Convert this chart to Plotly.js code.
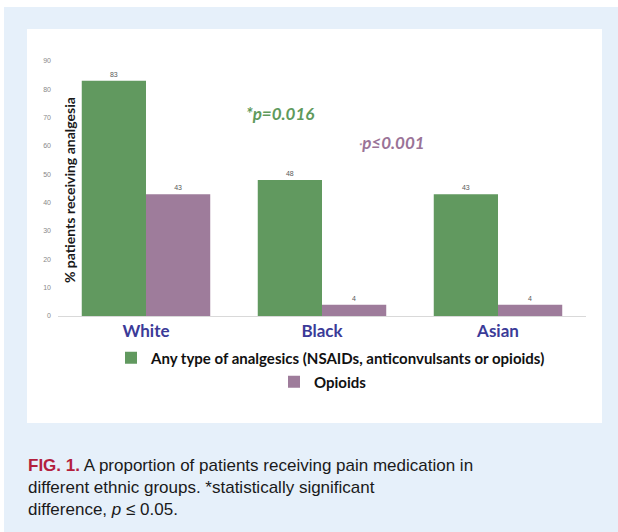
<!DOCTYPE html>
<html>
<head>
<meta charset="utf-8">
<script src="https://cdn.plot.ly/plotly-3.0.1.min.js"></script>
<style>html,body{margin:0;padding:0;background:#fff;}#chart{width:618px;height:532px;}</style>
</head>
<body>
<div id="chart"></div>
<script>
const categories = ["White", "Black", "Asian"];
const anyAnalgesics = [83, 48, 43];
const opioids = [43, 4, 4];
const seriesNames = ["Any type of analgesics (NSAIDs, anticonvulsants or opioids)", "Opioids"];
const yTicks = [0, 10, 20, 30, 40, 50, 60, 70, 80, 90];

// pixel helpers for layout placement
const L = 58, R = 586, T = 61, B = 316;
const px = x => (x - L) / (R - L);
const py = y => (B - y) / (B - T);

const traces = [
  {
    type: "bar", x: categories, y: anyAnalgesics, name: seriesNames[0],
    marker: {color: "#61995f"}, text: anyAnalgesics.map(String), textposition: "outside",
    textfont: {size: 7, color: "#595959", family: "Liberation Sans"}, cliponaxis: false,
    legend: "legend", hoverinfo: "none"
  },
  {
    type: "bar", x: categories, y: opioids, name: seriesNames[1],
    marker: {color: "#9e7c9b"}, text: opioids.map(String), textposition: "outside",
    textfont: {size: 7, color: "#595959", family: "Liberation Sans"}, cliponaxis: false,
    legend: "legend2", hoverinfo: "none"
  }
];

const legendFont = {family: "Lato", size: 15, color: "#111", weight: "bold"};

const layout = {
  width: 618, height: 532,
  margin: {l: L, r: 618 - R, t: T, b: 532 - B, pad: 0},
  paper_bgcolor: "#ffffff",
  plot_bgcolor: "rgba(0,0,0,0)",
  barmode: "group", bargap: 0.27, bargroupgap: 0,
  showlegend: true,
  xaxis: {
    showline: true, linecolor: "#d9d9d9", linewidth: 1, ticks: "",
    tickfont: {family: "Lato", size: 17, color: "#3b3b98", weight: "bold"},
    showgrid: false, zeroline: false, fixedrange: true
  },
  yaxis: {
    range: [0, 90], tickvals: yTicks, showgrid: false, zeroline: false, showline: false,
    tickfont: {family: "Liberation Sans", size: 7, color: "#888888"},
    ticklabelstandoff: 6, fixedrange: true
  },
  legend: {
    x: px(111), y: py(358), xanchor: "left", yanchor: "middle",
    orientation: "v", font: legendFont, bgcolor: "rgba(0,0,0,0)",
    itemwidth: 30, tracegroupgap: 0
  },
  legend2: {
    x: px(274), y: py(382), xanchor: "left", yanchor: "middle",
    orientation: "v", font: legendFont, bgcolor: "rgba(0,0,0,0)",
    itemwidth: 30, tracegroupgap: 0
  },
  shapes: [
    {type: "rect", xref: "paper", yref: "paper", x0: px(4), x1: px(620), y0: py(534), y1: py(7),
     fillcolor: "#e6f0fa", line: {width: 0}, layer: "below"},
    {type: "rect", xref: "paper", yref: "paper", x0: px(27), x1: px(602), y0: py(423), y1: py(29),
     fillcolor: "#ffffff", line: {width: 0}, layer: "below"}
  ],
  annotations: [
    {xref: "paper", yref: "paper", x: px(69), y: py(190), text: "% patients receiving analgesia",
     textangle: -90, showarrow: false, xanchor: "center", yanchor: "middle",
     font: {family: "Lato", size: 14, color: "#1a1a1a", weight: "bold"}},
    {xref: "paper", yref: "paper", x: px(280), y: py(113), text: "<i>*p=0.016</i>",
     showarrow: false, xanchor: "center", yanchor: "middle",
     font: {family: "Lato", size: 17, color: "#5f9a5c", weight: "bold"}},
    {xref: "paper", yref: "paper", x: px(392), y: py(142), text: "<i><span style='font-size:8px'>*</span>p≤0.001</i>",
     showarrow: false, xanchor: "center", yanchor: "middle",
     font: {family: "Lato", size: 17, color: "#9a7397", weight: "bold"}},
    {xref: "paper", yref: "paper", x: px(26), y: py(454), xanchor: "left", yanchor: "top", align: "left",
     showarrow: false,
     text: "<b><span style='color:#b3203d'>FIG. 1.</span></b> A proportion of patients receiving pain medication in<br>different ethnic groups. *statistically significant<br>difference, <i>p</i> ≤ 0.05.",
     font: {family: "Liberation Sans", size: 17, color: "#1a1a1a"}}
  ]
};

Plotly.newPlot("chart", traces, layout, {displayModeBar: false, staticPlot: true});
</script>
</body>
</html>
